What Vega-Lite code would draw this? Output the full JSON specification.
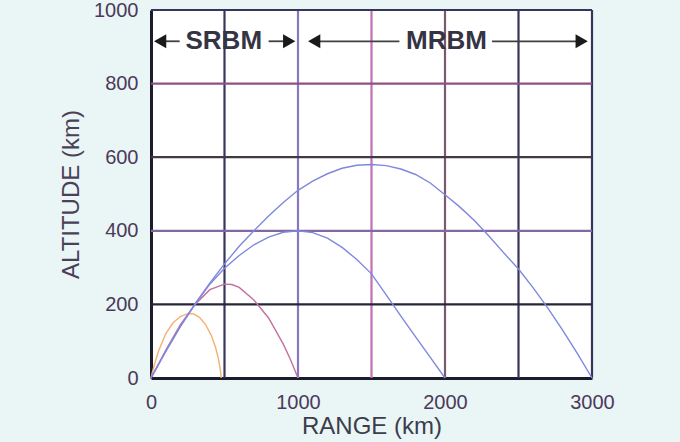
{
  "$schema": "https://vega.github.io/schema/vega-lite/v6.json",
  "width": 441,
  "height": 368,
  "autosize": {"type": "none"},
  "padding": {"left": 151, "top": 10, "right": 88, "bottom": 64},
  "background": "#eaf5f5",
  "config": {
    "view": {"stroke": null, "fill": "white"},
    "font": "Liberation Sans"
  },
  "datasets": {
    "traj": [
      {"missile": "A", "range": 0, "alt": 0}, {"missile": "A", "range": 20, "alt": 32}, {"missile": "A", "range": 50, "alt": 72},
      {"missile": "A", "range": 100, "alt": 120}, {"missile": "A", "range": 150, "alt": 150}, {"missile": "A", "range": 200, "alt": 167},
      {"missile": "A", "range": 250, "alt": 175}, {"missile": "A", "range": 290, "alt": 174}, {"missile": "A", "range": 330, "alt": 165},
      {"missile": "A", "range": 370, "alt": 146}, {"missile": "A", "range": 410, "alt": 116}, {"missile": "A", "range": 440, "alt": 82},
      {"missile": "A", "range": 460, "alt": 50}, {"missile": "A", "range": 472, "alt": 22}, {"missile": "A", "range": 478, "alt": 0},
      {"missile": "B", "range": 0, "alt": 0}, {"missile": "B", "range": 100, "alt": 75}, {"missile": "B", "range": 200, "alt": 145},
      {"missile": "B", "range": 300, "alt": 200}, {"missile": "B", "range": 400, "alt": 240}, {"missile": "B", "range": 500, "alt": 255},
      {"missile": "B", "range": 550, "alt": 254}, {"missile": "B", "range": 600, "alt": 246}, {"missile": "B", "range": 700, "alt": 212},
      {"missile": "B", "range": 800, "alt": 163}, {"missile": "B", "range": 900, "alt": 92}, {"missile": "B", "range": 950, "alt": 49},
      {"missile": "B", "range": 1000, "alt": 0},
      {"missile": "C", "range": 0, "alt": 0}, {"missile": "C", "range": 100, "alt": 72}, {"missile": "C", "range": 200, "alt": 140},
      {"missile": "C", "range": 300, "alt": 200}, {"missile": "C", "range": 400, "alt": 255}, {"missile": "C", "range": 500, "alt": 298},
      {"missile": "C", "range": 600, "alt": 333}, {"missile": "C", "range": 700, "alt": 362}, {"missile": "C", "range": 800, "alt": 383},
      {"missile": "C", "range": 900, "alt": 396}, {"missile": "C", "range": 1000, "alt": 400}, {"missile": "C", "range": 1100, "alt": 395},
      {"missile": "C", "range": 1200, "alt": 380}, {"missile": "C", "range": 1300, "alt": 355}, {"missile": "C", "range": 1400, "alt": 322},
      {"missile": "C", "range": 1500, "alt": 283}, {"missile": "C", "range": 1600, "alt": 226}, {"missile": "C", "range": 1700, "alt": 168},
      {"missile": "C", "range": 1800, "alt": 112}, {"missile": "C", "range": 1900, "alt": 56}, {"missile": "C", "range": 2000, "alt": 0},
      {"missile": "D", "range": 0, "alt": 0}, {"missile": "D", "range": 100, "alt": 72}, {"missile": "D", "range": 200, "alt": 140},
      {"missile": "D", "range": 300, "alt": 202}, {"missile": "D", "range": 400, "alt": 258}, {"missile": "D", "range": 500, "alt": 310},
      {"missile": "D", "range": 600, "alt": 358}, {"missile": "D", "range": 700, "alt": 400}, {"missile": "D", "range": 800, "alt": 440},
      {"missile": "D", "range": 900, "alt": 477}, {"missile": "D", "range": 1000, "alt": 510}, {"missile": "D", "range": 1100, "alt": 535},
      {"missile": "D", "range": 1200, "alt": 555}, {"missile": "D", "range": 1300, "alt": 570}, {"missile": "D", "range": 1400, "alt": 578},
      {"missile": "D", "range": 1500, "alt": 580}, {"missile": "D", "range": 1600, "alt": 577}, {"missile": "D", "range": 1700, "alt": 568},
      {"missile": "D", "range": 1800, "alt": 553}, {"missile": "D", "range": 1900, "alt": 530}, {"missile": "D", "range": 2000, "alt": 498},
      {"missile": "D", "range": 2100, "alt": 465}, {"missile": "D", "range": 2200, "alt": 428}, {"missile": "D", "range": 2300, "alt": 385},
      {"missile": "D", "range": 2400, "alt": 340}, {"missile": "D", "range": 2500, "alt": 296}, {"missile": "D", "range": 2600, "alt": 245},
      {"missile": "D", "range": 2700, "alt": 190}, {"missile": "D", "range": 2800, "alt": 130}, {"missile": "D", "range": 2900, "alt": 67},
      {"missile": "D", "range": 3000, "alt": 0}
    ],
    "vgrid": [
      {"range": 500, "color": "#36365a"},
      {"range": 1000, "color": "#8878bc"},
      {"range": 1500, "color": "#c070b4"},
      {"range": 2000, "color": "#7a5a6c"},
      {"range": 2500, "color": "#36365a"},
      {"range": 3000, "color": "#36365a"}
    ],
    "hgrid": [
      {"alt": 200, "color": "#26263a"},
      {"alt": 400, "color": "#8468a4"},
      {"alt": 600, "color": "#443844"},
      {"alt": 800, "color": "#8e5086"},
      {"alt": 1000, "color": "#36365a"}
    ],
    "segs": [
      {"from": 60, "to": 195, "alt": 915},
      {"from": 800, "to": 940, "alt": 915},
      {"from": 1110, "to": 1690, "alt": 915},
      {"from": 2320, "to": 2930, "alt": 915}
    ],
    "heads": [
      {"range": 62, "alt": 915, "dir": "triangle-left"},
      {"range": 940, "alt": 915, "dir": "triangle-right"},
      {"range": 1110, "alt": 915, "dir": "triangle-left"},
      {"range": 2930, "alt": 915, "dir": "triangle-right"}
    ],
    "labels": [
      {"range": 495, "alt": 915, "text": "SRBM"},
      {"range": 2010, "alt": 915, "text": "MRBM"}
    ]
  },
  "layer": [
    {
      "data": {"name": "vgrid"},
      "mark": {"type": "rule", "strokeWidth": 2.2},
      "encoding": {
        "x": {"field": "range", "type": "quantitative", "scale": {"domain": [0, 3000], "nice": false},
          "axis": {"values": [0, 1000, 2000, 3000], "format": "d", "grid": false, "ticks": false, "domainColor": "#1c1c2c", "domainWidth": 3,
            "labelFontSize": 20, "labelColor": "#4a3a5a", "labelPadding": 14, "labelFlush": false,
            "title": "RANGE (km)", "titleFontSize": 24, "titleFontWeight": "normal", "titleColor": "#3c3c4c", "titlePadding": 2}},
        "color": {"field": "color", "type": "nominal", "scale": null}
      }
    },
    {
      "data": {"name": "hgrid"},
      "mark": {"type": "rule", "strokeWidth": 2.2},
      "encoding": {
        "y": {"field": "alt", "type": "quantitative", "scale": {"domain": [0, 1000], "nice": false},
          "axis": {"values": [0, 200, 400, 600, 800, 1000], "format": "d", "grid": false, "ticks": false, "domainColor": "#1c1c2c", "domainWidth": 3,
            "labelFontSize": 20, "labelColor": "#4a3a5a", "labelPadding": 13, "labelFlush": false,
            "title": "ALTITUDE (km)", "titleFontSize": 24, "titleFontWeight": "normal", "titleColor": "#4a4058", "titlePadding": 10}},
        "color": {"field": "color", "type": "nominal", "scale": null}
      }
    },
    {
      "data": {"name": "traj"},
      "mark": {"type": "line", "strokeWidth": 1.4},
      "encoding": {
        "x": {"field": "range", "type": "quantitative"},
        "y": {"field": "alt", "type": "quantitative"},
        "detail": {"field": "missile"},
        "color": {"field": "missile", "type": "nominal", "legend": null,
          "scale": {"domain": ["A", "B", "C", "D"], "range": ["#f4b070", "#c4709c", "#7f88de", "#7f88de"]}}
      }
    },
    {
      "data": {"name": "segs"},
      "mark": {"type": "rule", "strokeWidth": 1.8, "color": "#404040"},
      "encoding": {
        "x": {"field": "from", "type": "quantitative"},
        "x2": {"field": "to"},
        "y": {"field": "alt", "type": "quantitative"}
      }
    },
    {
      "data": {"name": "heads"},
      "mark": {"type": "point", "filled": true, "size": 200, "color": "#1a1a1a", "opacity": 1},
      "encoding": {
        "x": {"field": "range", "type": "quantitative"},
        "y": {"field": "alt", "type": "quantitative"},
        "shape": {"field": "dir", "type": "nominal", "scale": null}
      }
    },
    {
      "data": {"name": "labels"},
      "mark": {"type": "text", "fontSize": 26, "fontWeight": "bold", "color": "#343444", "baseline": "middle", "align": "center"},
      "encoding": {
        "x": {"field": "range", "type": "quantitative"},
        "y": {"field": "alt", "type": "quantitative"},
        "text": {"field": "text"}
      }
    }
  ]
}
